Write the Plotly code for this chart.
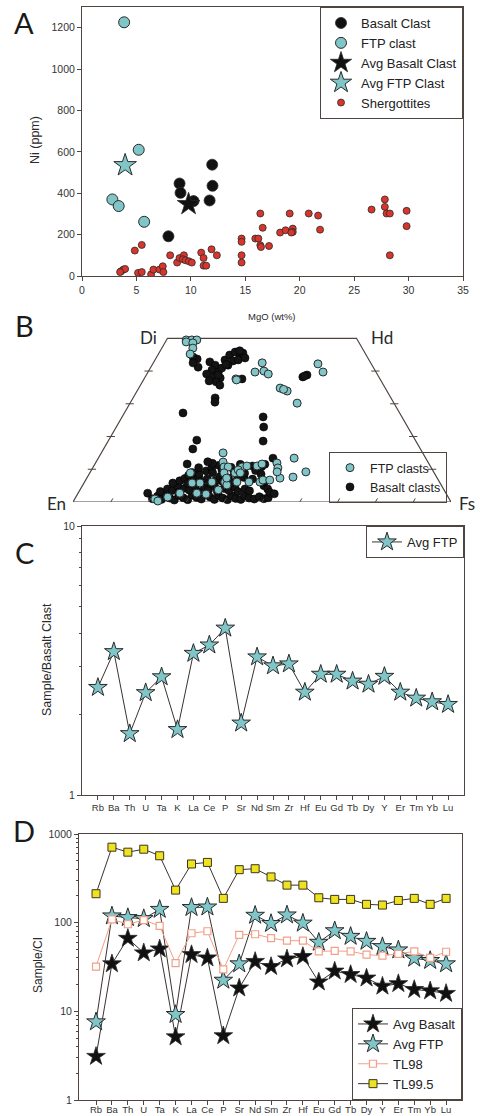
import math
import plotly.graph_objects as go

W, H = 480, 1116

# ---------------- Panel A data ----------------
basalt_mgo = [7.94, 8.96, 9.05, 10.25, 11.96, 11.99, 11.72]
basalt_ni = [192, 447, 402, 362, 538, 436, 365]
ftp_mgo = [3.87, 5.21, 2.79, 3.37, 5.71]
ftp_ni = [1226, 610, 370, 338, 262]
avg_basalt_mgo = [9.79]
avg_basalt_ni = [347]
avg_ftp_mgo = [3.96]
avg_ftp_ni = [535]
sherg_mgo = [3.59, 3.80, 3.96, 3.50, 4.85, 5.49, 5.15, 5.49, 6.35, 6.56, 7.12, 7.42, 7.48,
             8.10, 8.74, 8.96, 9.36, 9.26, 9.51, 9.82, 10.09, 10.95, 11.17, 11.17, 11.41,
             11.90, 12.39, 14.66, 14.66, 14.66, 14.66, 15.92, 16.2, 16.38, 16.6, 16.38,
             16.44, 17.18, 18.2, 18.7, 19.08, 19.36, 19.36, 19.23, 20.83, 21.69, 21.87,
             26.6, 27.82, 27.82, 27.98, 28.28, 28.28, 29.82, 29.82]
sherg_ni = [23, 31, 34, 19, 123, 150, 15, 19, 8, 31, 31, 47, 19,
            100, 65, 87, 100, 81, 76, 71, 65, 113, 87, 50, 50,
            129, 100, 181, 165, 100, 65, 181, 181, 302, 233, 149,
            140, 145, 210, 221, 302, 229, 213, 210, 302, 292, 224,
            321, 370, 334, 302, 302, 100, 315, 241]

# ---------------- Panel B data (Wo, Fs in mol%) ----------------
basalt_wo = [41.2, 43.7, 42.8, 41.8, 40.3, 39.7, 38.2, 37.9, 36.7, 40.9, 43.4, 44.9, 45.8, 44.6,
             43.1, 45.5, 43.4, 41.8, 39.1, 35.7, 46.2, 44.0, 42.0, 38.8, 37.0, 44.3, 42.5,
             38.2, 38.8, 38.5, 37.6, 31.8, 30.5, 27.2, 26.0, 22.9, 18.6, 18.9, 16.2, 11.6, 2.7, 13.4,
             1.0, 1.8, 0.8, 2.2, 1.2, 0.6, 2.0, 1.3, 0.7, 2.1, 1.4, 0.9, 2.3, 1.5, 0.8, 2.0, 1.2,
             0.7, 1.9, 1.1, 0.8, 1.8, 1.2, 0.9, 1.6, 1.0, 1.3,
             3.2, 4.0, 3.5, 4.6, 3.0, 4.2, 3.6, 4.8, 3.1, 4.4, 3.7, 4.9, 3.3, 4.1, 3.5, 4.6, 3.2, 4.0, 3.4,
             5.8, 6.5, 7.2, 5.6, 6.8, 7.6, 6.0, 7.0, 5.7, 6.6, 7.8, 6.2, 7.3, 5.9, 6.9, 7.5,
             8.6, 9.5, 10.4, 8.9, 11.2, 9.8, 8.7, 10.6, 9.2, 11.5, 10.0, 8.8, 11.0, 9.6, 11.8, 10.8,
             9.0, 10.5, 12.3, 8.2, 7.0, 8.5, 5.0, 4.0, 3.0, 2.5, 11.5, 6.0]
basalt_fs = [12.5, 11.0, 14.8, 16.7, 16.6, 18.6, 18.2, 20.0, 19.5, 18.9, 18.5, 19.0, 20.0, 21.9,
             20.8, 22.2, 22.0, 20.1, 15.8, 21.0, 21.0, 23.5, 19.5, 19.0, 17.5, 9.6, 10.5,
             41.7, 42.5, 42.0, 25.9, 21.7, 22.3, 15.5, 37.3, 39.0, 41.0, 23.3, 23.6, 24.4, 18.4, 46.2,
             20.5, 21.5, 23.0, 23.5, 25.0, 26.5, 27.0, 28.5, 30.0, 30.5, 32.0, 33.5, 34.0, 35.5, 37.0, 37.5, 39.0,
             40.5, 41.0, 42.5, 44.0, 44.5, 46.0, 47.5, 48.5, 50.0, 51.0,
             21.5, 23.0, 24.5, 25.5, 26.5, 27.5, 29.0, 30.0, 31.5, 32.5, 34.0, 35.0, 36.5, 38.0, 39.5, 40.5, 42.0, 43.5, 45.0,
             23.5, 25.0, 26.0, 27.5, 28.5, 29.5, 31.0, 32.0, 33.5, 34.5, 35.0, 36.5, 37.5, 39.0, 40.0, 41.5,
             29.0, 30.5, 31.5, 32.5, 33.0, 34.5, 35.5, 36.5, 38.0, 38.5, 40.0, 41.0, 42.0, 43.5, 31.0, 44.5,
             27.0, 28.0, 29.5, 26.5, 44.0, 45.5, 48.0, 49.5, 50.5, 52.0, 45.0, 47.0]
ftpB_wo = [49.5, 49.5, 49.5, 48.9, 48.6, 47.0, 45.2,
           37.6, 37.3, 42.5, 39.7, 40.0, 39.1, 34.8, 33.9, 34.4, 30.2, 42.2, 39.7,
           15.0, 12.2, 10.7, 10.7, 8.9, 8.9, 6.1, 5.2, 5.8, 3.7, 2.7, 2.4, 2.7, 1.5, 0.9, 0.3,
           8.9, 10.7, 11.0, 11.0, 11.6, 9.8, 6.1, 6.7, 6.7, 7.3, 11.9, 10.4, 9.2, 13.4, 7.6, 9.2,
           6.1, 7.3, 6.1, 5.8, 6.1, 8.9]
ftpB_fs = [5.2, 6.7, 8.0, 5.5, 7.4, 8.2, 8.4,
           24.3, 24.6, 28.8, 28.3, 30.5, 32.1, 37.4, 39.7, 38.5, 44.2, 43.7, 46.3,
           32.2, 33.6, 34.6, 35.7, 26.6, 35.5, 37.1, 38.1, 30.7, 36.6, 31.4, 34.0, 26.9, 24.3, 21.2, 22.3,
           38.4, 39.4, 40.5, 43.2, 44.2, 38.8, 46.4, 46.9, 48.7, 51.1, 48.0, 49.0, 49.4, 51.8, 54.4, 57.0,
           33.7, 37.0, 40.3, 28.6, 43.5, 39.8]
quad_labels = ["Di", "Hd", "En", "Fs"]

# ---------------- Panels C and D data ----------------
elements = ["Rb", "Ba", "Th", "U", "Ta", "K", "La", "Ce", "P", "Sr", "Nd", "Sm", "Zr", "Hf",
            "Eu", "Gd", "Tb", "Dy", "Y", "Er", "Tm", "Yb", "Lu"]
ftp_over_basalt = [2.51, 3.41, 1.69, 2.40, 2.75, 1.75, 3.36, 3.61, 4.17, 1.85, 3.26, 3.02, 3.07,
                   2.41, 2.81, 2.81, 2.65, 2.58, 2.76, 2.41, 2.29, 2.22, 2.17]
avg_basalt_ci = [3.1, 34.3, 66.5, 45.6, 50.5, 5.15, 43.6, 40.0, 5.3, 18.3, 36.5, 32.0, 39.0, 41.5,
                 21.4, 28.4, 26.0, 23.7, 19.2, 20.5, 17.6, 17.0, 15.9]
avg_ftp_ci = [7.6, 119, 114, 111, 141, 9.2, 148, 150, 22.4, 34.3, 121, 97.8, 122, 98.6,
              60, 81, 70, 61.5, 53.6, 49.2, 39.7, 37.4, 34.3]
tl98_ci = [32, 109, 96, 107, 92, 35, 76, 80, 29.7, 73, 74, 67, 62.6, 62.6,
           47.5, 48, 47.5, 43.6, 42.5, 44.4, 47.5, 40, 47]
tl995_ci = [212, 710, 624, 674, 568, 233, 459, 478, 188, 396, 406, 328, 265, 265,
            191, 183, 183, 161, 158, 178, 188, 161, 188]

# ---------------- styling ----------------
FONT = "Liberation Sans, Arial, sans-serif"
LFONT = "Lato, Open Sans, sans-serif"
AXC = "#4f4540"
EDGE = "#2a2a2a"
TEAL = "#80c6c8"
RED = "#d8362c"
LINEC = "#3a3230"
YEL = "#efe21e"
SALMON = "#f2a088"

def px(x):
    return x / W

def py(y):
    return 1 - y / H

fig = go.Figure()

# ---- Panel A ----
fig.add_trace(go.Scatter(x=sherg_mgo, y=sherg_ni, mode="markers", name="Shergottites",
                         marker=dict(size=7, color=RED, line=dict(color=EDGE, width=0.8)),
                         xaxis="x", yaxis="y", legend="legend", legendrank=5))
fig.add_trace(go.Scatter(x=basalt_mgo, y=basalt_ni, mode="markers", name="Basalt Clast",
                         marker=dict(size=11, color="#111111", line=dict(color=EDGE, width=0.8)),
                         xaxis="x", yaxis="y", legend="legend", legendrank=1))
fig.add_trace(go.Scatter(x=ftp_mgo, y=ftp_ni, mode="markers", name="FTP clast",
                         marker=dict(size=11, color=TEAL, line=dict(color=EDGE, width=1)),
                         xaxis="x", yaxis="y", legend="legend", legendrank=2))
fig.add_trace(go.Scatter(x=avg_basalt_mgo, y=avg_basalt_ni, mode="markers", name="Avg Basalt Clast",
                         marker=dict(symbol="star", size=17, color="#111111", line=dict(color=EDGE, width=0.8)),
                         xaxis="x", yaxis="y", legend="legend", legendrank=3))
fig.add_trace(go.Scatter(x=avg_ftp_mgo, y=avg_ftp_ni, mode="markers", name="Avg FTP Clast",
                         marker=dict(symbol="star", size=17, color=TEAL, line=dict(color=EDGE, width=1)),
                         xaxis="x", yaxis="y", legend="legend", legendrank=4))

# ---- Panel B (pyroxene quadrilateral projection) ----
S3 = math.sqrt(3) / 2
def tern_x(wo, fs):
    return [f + w / 2 for w, f in zip(wo, fs)]
def tern_y(wo):
    return [w * S3 for w in wo]

fig.add_trace(go.Scatter(x=tern_x(basalt_wo, basalt_fs), y=tern_y(basalt_wo), mode="markers",
                         name="Basalt clasts", cliponaxis=False,
                         marker=dict(size=8, color="#141414", line=dict(color="#000000", width=0.6)),
                         xaxis="x2", yaxis="y2", legend="legend2", legendrank=2))
fig.add_trace(go.Scatter(x=tern_x(ftpB_wo, ftpB_fs), y=tern_y(ftpB_wo), mode="markers",
                         name="FTP clasts", cliponaxis=False,
                         marker=dict(size=8, color=TEAL, line=dict(color=EDGE, width=1)),
                         xaxis="x2", yaxis="y2", legend="legend2", legendrank=1))

# ---- Panel C ----
fig.add_trace(go.Scatter(x=elements, y=ftp_over_basalt, mode="lines+markers", name="Avg FTP",
                         line=dict(color=LINEC, width=1),
                         marker=dict(symbol="star", size=14, color=TEAL, line=dict(color=EDGE, width=1)),
                         xaxis="x3", yaxis="y3", legend="legend3"))

# ---- Panel D ----
fig.add_trace(go.Scatter(x=elements, y=avg_basalt_ci, mode="lines+markers", name="Avg Basalt",
                         line=dict(color=LINEC, width=1),
                         marker=dict(symbol="star", size=14, color="#111111", line=dict(color=EDGE, width=0.8)),
                         xaxis="x4", yaxis="y4", legend="legend4", legendrank=1))
fig.add_trace(go.Scatter(x=elements, y=avg_ftp_ci, mode="lines+markers", name="Avg FTP",
                         line=dict(color=LINEC, width=1),
                         marker=dict(symbol="star", size=14, color=TEAL, line=dict(color=EDGE, width=1)),
                         xaxis="x4", yaxis="y4", legend="legend4", legendrank=2))
fig.add_trace(go.Scatter(x=elements, y=tl98_ci, mode="lines+markers", name="TL98",
                         line=dict(color=SALMON, width=1),
                         marker=dict(symbol="square", size=7, color="white", line=dict(color=SALMON, width=1.2)),
                         xaxis="x4", yaxis="y4", legend="legend4", legendrank=3))
fig.add_trace(go.Scatter(x=elements, y=tl995_ci, mode="lines+markers", name="TL99.5",
                         line=dict(color=LINEC, width=1),
                         marker=dict(symbol="square", size=8, color=YEL, line=dict(color="#3a3520", width=1)),
                         xaxis="x4", yaxis="y4", legend="legend4", legendrank=4))

AX = dict(showline=True, linecolor=AXC, linewidth=1, mirror=True, ticks="outside",
          tickcolor=AXC, ticklen=4, tickwidth=1, showgrid=False, zeroline=False,
          tickfont=dict(size=10.5, color="#333333", family=FONT))

minor_vals = [m * 10 ** e for e in range(3) for m in range(2, 10)]

layout = dict(
    width=W, height=H, margin=dict(l=0, r=0, t=0, b=0, autoexpand=False),
    paper_bgcolor="white", plot_bgcolor="white",
    font=dict(family=FONT, color="#222222"),
    xaxis=dict(AX, domain=[px(82), px(463)], range=[0, 35], dtick=5, anchor="y"),
    yaxis=dict(AX, domain=[py(276), py(7)], range=[0, 1300], dtick=200, anchor="x"),
    xaxis2=dict(visible=False, domain=[px(73), px(451)], range=[0, 100], anchor="y2"),
    yaxis2=dict(visible=False, domain=[py(502), py(337)], range=[0, 165 / 3.78], anchor="x2"),
    xaxis3=dict(AX, domain=[px(82), px(464)], range=[-1.0, 23.0], type="category",
                tickangle=0, tickfont=dict(size=9.5, color="#333333", family=FONT), anchor="y3"),
    yaxis3=dict(AX, domain=[py(795), py(526)], type="log", range=[0, 1],
                tickvals=[1, 10], ticktext=["1", "10"], anchor="x3",
                minor=dict(ticks="outside", ticklen=2.5, tickcolor=AXC, tickvals=minor_vals)),
    xaxis4=dict(AX, domain=[px(79), px(462)], range=[-1.07, 23.0], type="category",
                tickangle=0, ticklabelstandoff=-3,
                tickfont=dict(size=9.5, color="#333333", family=FONT), anchor="y4"),
    yaxis4=dict(AX, domain=[py(1100), py(834)], type="log", range=[0, 3],
                tickvals=[1, 10, 100, 1000], ticktext=["1", "10", "100", "1000"], anchor="x4",
                minor=dict(ticks="outside", ticklen=2.5, tickcolor=AXC, tickvals=minor_vals)),
    legend=dict(x=px(463), xanchor="right", y=py(7), yanchor="top", bgcolor="white",
                bordercolor=AXC, borderwidth=1, font=dict(size=13, family=FONT),
                itemwidth=30, tracegroupgap=0),
    legend2=dict(x=px(447), xanchor="right", y=py(503), yanchor="bottom",
                 bgcolor="rgba(255,255,255,0)", bordercolor=AXC, borderwidth=1,
                 font=dict(size=12.5, family=FONT), itemwidth=30),
    legend3=dict(x=px(464), xanchor="right", y=py(526), yanchor="top", bgcolor="white",
                 bordercolor=AXC, borderwidth=1, font=dict(size=13, family=FONT), itemwidth=30),
    legend4=dict(x=px(462), xanchor="right", y=py(1100), yanchor="bottom", bgcolor="white",
                 bordercolor=AXC, borderwidth=1, font=dict(size=13, family=FONT), itemwidth=30),
    showlegend=True,
)
fig.update_layout(**layout)

# quadrilateral outline and tick marks (axis furniture for panel B)
top = 50 * S3
shapes = [dict(type="path", xref="x2", yref="y2",
               path=f"M 0 0 L 25 {top} L 75 {top} L 100 0 Z",
               line=dict(color=AXC, width=1.2), layer="below")]
h = 1.1
for k in range(10, 100, 10):
    shapes.append(dict(type="line", xref="x2", yref="y2", x0=k - 0.5 * h, y0=-S3 * h,
                       x1=k + 0.5 * h, y1=S3 * h, line=dict(color=AXC, width=1)))
for wv in range(10, 50, 10):
    yv = wv * S3
    shapes.append(dict(type="line", xref="x2", yref="y2", x0=wv / 2 - h, y0=yv,
                       x1=wv / 2 + h, y1=yv, line=dict(color=AXC, width=1)))
    shapes.append(dict(type="line", xref="x2", yref="y2", x0=100 - wv / 2 - h, y0=yv,
                       x1=100 - wv / 2 + h, y1=yv, line=dict(color=AXC, width=1)))
fig.update_layout(shapes=shapes)

ann = []
def letter(t, x, y):
    ann.append(dict(text=t, x=px(x), y=py(y), xref="paper", yref="paper", showarrow=False,
                    xanchor="center", yanchor="middle", font=dict(size=29, family=LFONT, color="#1a1a1a")))
letter("A", 24, 22)
letter("B", 24, 325)
letter("C", 24, 552)
letter("D", 24, 830)

def text(t, x, y, size, angle=0, xa="center", fam=FONT):
    ann.append(dict(text=t, x=px(x), y=py(y), xref="paper", yref="paper", showarrow=False,
                    xanchor=xa, yanchor="middle", textangle=angle,
                    font=dict(size=size, family=fam, color="#2a2a2a")))
text("Ni (ppm)", 35, 140, 12.5, -90)
text("MgO (wt%)", 272, 316, 9.5)
text("Sample/Basalt Clast", 47, 660, 12.5, -90)
text("Sample/CI", 38, 965, 12, -90)
text(quad_labels[0], 159, 337, 17, xa="right", fam=LFONT)
text(quad_labels[1], 369, 337, 17, xa="left", fam=LFONT)
text(quad_labels[2], 68, 503, 17, xa="right", fam=LFONT)
text(quad_labels[3], 457, 503, 17, xa="left", fam=LFONT)
fig.update_layout(annotations=ann)

fig.write_html("out.html", config={"displayModeBar": False},
               post_script="document.body.style.margin='0px';document.body.style.overflow='hidden';")
